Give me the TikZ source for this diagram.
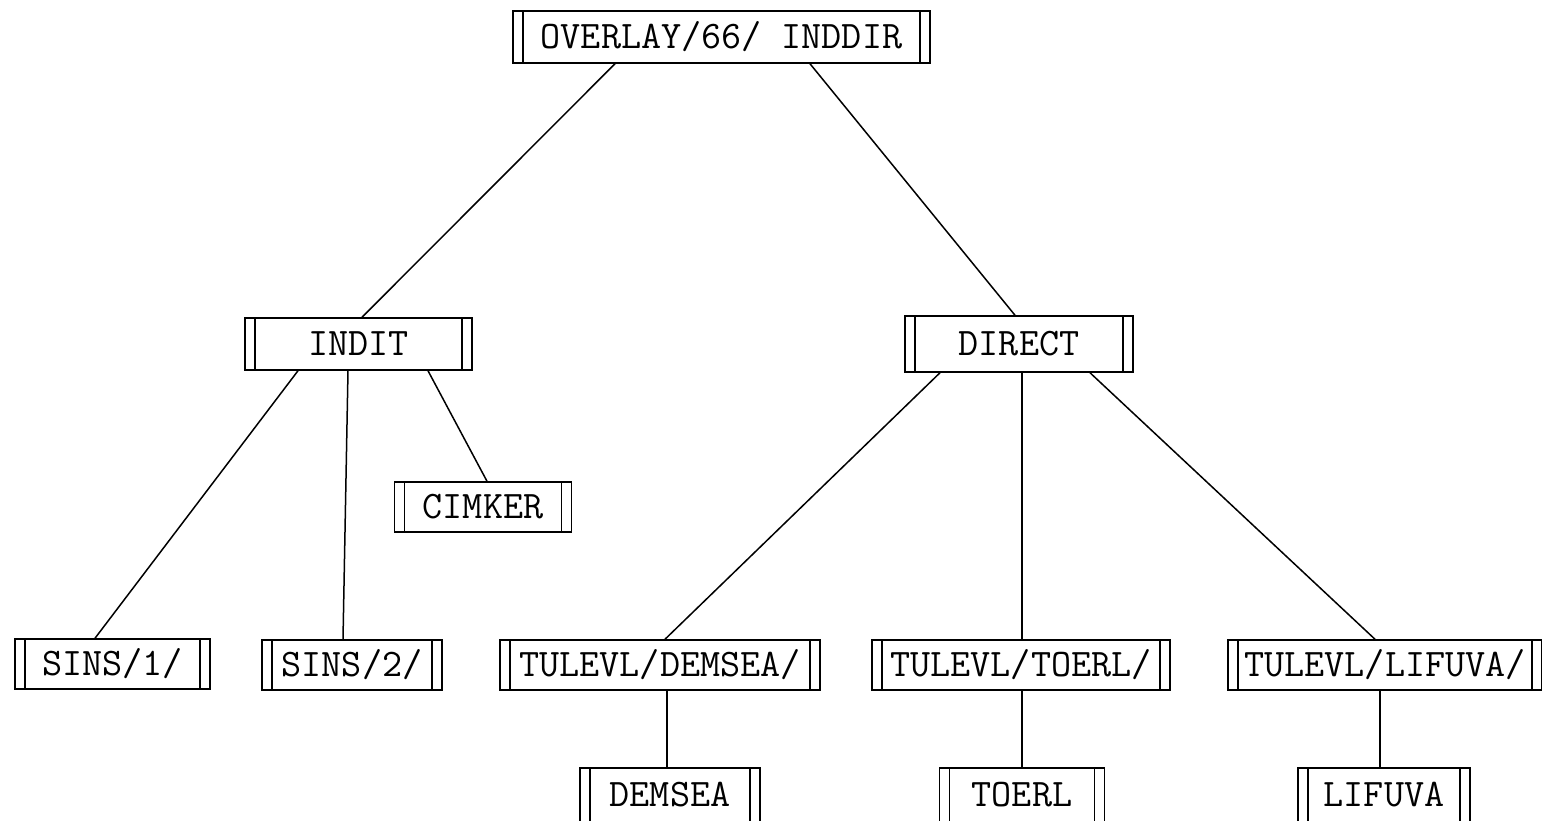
\documentclass[tikz,border=0pt]{standalone}
\begin{document}
\begin{tikzpicture}[x=1pt,y=-1pt,
  pbox/.style={draw, line width=1.5pt, inner sep=0pt, minimum height=50pt,
    font=\fontsize{39}{42}\selectfont\ttfamily,
    path picture={
      \draw[line width=1.5pt] ([xshift=10pt]path picture bounding box.south west) -- ([xshift=10pt]path picture bounding box.north west);
      \draw[line width=1.5pt] ([xshift=-10pt]path picture bounding box.south east) -- ([xshift=-10pt]path picture bounding box.north east);
    }},
  link/.style={line width=1.5pt}]
\useasboundingbox (0,0) rectangle (1542,821);
\node[pbox, minimum width=417pt, minimum height=52pt] (top) at (721.5,37) {OVERLAY/66/ INDDIR};
\node[pbox, minimum width=227pt, minimum height=52pt] (indit) at (358.5,344) {INDIT};
\node[pbox, minimum width=228pt, minimum height=56pt] (direct) at (1019,344) {DIRECT};
\node[pbox, minimum width=177pt] (cimker) at (483,507) {CIMKER};
\node[pbox, minimum width=195pt] (sins1) at (112.5,664) {SINS/1/};
\node[pbox, minimum width=180pt] (sins2) at (352,665) {SINS/2/};
\node[pbox, minimum width=320pt] (tdem) at (660,665) {TULEVL/DEMSEA/};
\node[pbox, minimum width=298pt] (ttoe) at (1021,665) {TULEVL/TOERL/};
\node[pbox, minimum width=314pt] (tlif) at (1385,665) {TULEVL/LIFUVA/};
\node[pbox, minimum width=180pt, minimum height=54pt] (dem) at (670,795) {DEMSEA};
\node[pbox, minimum width=165pt, minimum height=54pt] (toe) at (1022,795) {TOERL};
\node[pbox, minimum width=172pt, minimum height=54pt] (lif) at (1384,795) {LIFUVA};

\draw[link] ([xshift=-106.5pt]top.south) -- ([xshift=3.5pt]indit.north);
\draw[link] ([xshift=88.5pt]top.south) -- ([xshift=-4pt]direct.north);
\draw[link] ([xshift=-60.5pt]indit.south) -- ([xshift=-17.5pt]sins1.north);
\draw[link] ([xshift=-10.5pt]indit.south) -- ([xshift=-9pt]sins2.north);
\draw[link] ([xshift=69.5pt]indit.south) -- ([xshift=4pt]cimker.north);
\draw[link] ([xshift=-79pt]direct.south) -- ([xshift=5pt]tdem.north);
\draw[link] ([xshift=3pt]direct.south) -- ([xshift=1pt]ttoe.north);
\draw[link] ([xshift=71pt]direct.south) -- ([xshift=-10pt]tlif.north);
\draw[link] ([xshift=7pt]tdem.south) -- ([xshift=-3pt]dem.north);
\draw[link] ([xshift=1pt]ttoe.south) -- (toe.north);
\draw[link] ([xshift=-5pt]tlif.south) -- ([xshift=-4pt]lif.north);
\end{tikzpicture}
\end{document}
